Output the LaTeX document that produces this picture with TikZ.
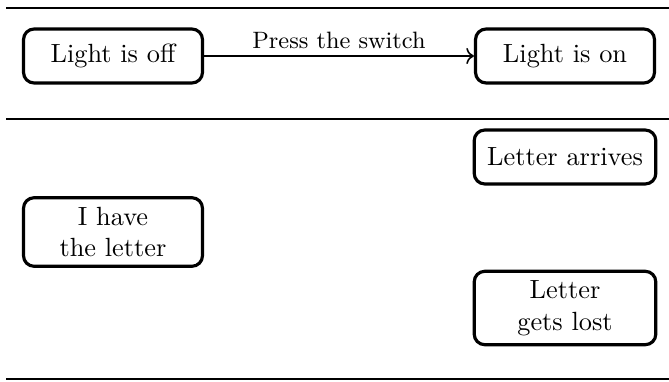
\documentclass[tikz,border=0pt]{standalone}
\usetikzlibrary{arrows.meta}
\begin{document}
\begin{tikzpicture}[x=0.38pt, y=-0.38pt,
  state/.style={draw, very thick, rounded corners=4pt, align=center,
    minimum width=68pt, minimum height=20.5pt, inner sep=3.5pt},
  rule/.style={thick},
  trans/.style={semithick, ->}]
  \useasboundingbox (0,0) rectangle (669,381);

  % separators
  \coordinate (t0) at (6,8);   \coordinate (t1) at (669,8);
  \coordinate (m0) at (6,119); \coordinate (m1) at (669,119);
  \coordinate (b0) at (6,379); \coordinate (b1) at (669,379);
  \draw[rule] (t0) -- (t1);
  \draw[semithick] (m0) -- (m1);
  \draw[rule] (b0) -- (b1);

  % light switch
  \node[state] (off) at (113,56) {Light is off};
  \node[state] (on)  at (565,56) {Light is on};
  \draw[trans] (off) -- node[above, font=\small, yshift=-1pt] {Press the switch} (on);

  % letter
  \node[state, minimum width=69pt] (arr)  at (565,157) {Letter arrives};
  \node[state] (have) at (113,232) {I have\\the letter};
  \node[state, minimum width=69pt] (lost) at (565,308) {Letter\\gets lost};
\end{tikzpicture}
\end{document}
